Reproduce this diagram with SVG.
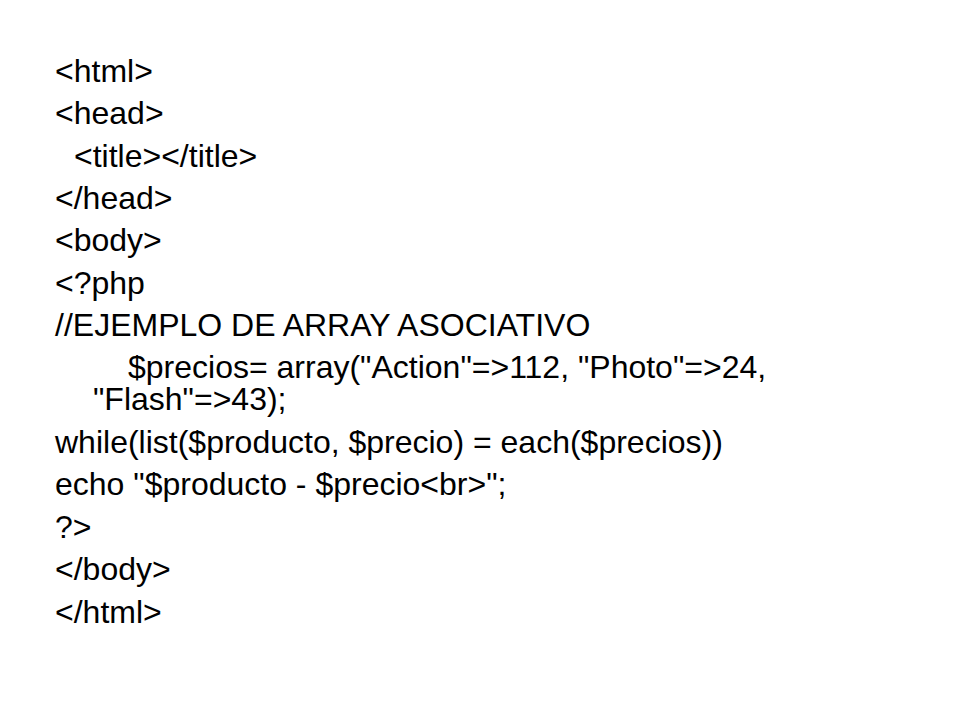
<svg xmlns="http://www.w3.org/2000/svg" width="960" height="720" viewBox="0 0 960 720">
<style>
text { font-family: "Liberation Sans", Arial, sans-serif; font-size: 32px; fill: #000; }
</style>
<rect width="960" height="720" fill="#fff"/>
<g id="code">
<text x="55" y="82">&lt;html&gt;</text>
<text x="55" y="124">&lt;head&gt;</text>
<text x="74" y="167">&lt;title&gt;&lt;/title&gt;</text>
<text x="55" y="209">&lt;/head&gt;</text>
<text x="55" y="251">&lt;body&gt;</text>
<text x="55" y="294">&lt;?php</text>
<text x="55" y="336">//EJEMPLO DE ARRAY ASOCIATIVO</text>
<text x="128" y="378">$precios= array("Action"=&gt;112, "Photo"=&gt;24,</text>
<text x="93" y="410">"Flash"=&gt;43);</text>
<text x="55" y="453">while(list($producto, $precio) = each($precios))</text>
<text x="55" y="495">echo "$producto - $precio&lt;br&gt;";</text>
<text x="55" y="538">?&gt;</text>
<text x="55" y="580">&lt;/body&gt;</text>
<text x="55" y="623">&lt;/html&gt;</text>
</g>
</svg>
